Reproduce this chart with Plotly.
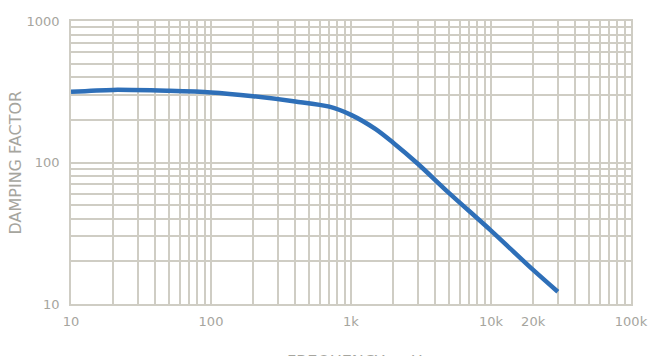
import plotly.graph_objects as go

freq = [10, 20, 50, 100, 200, 400, 700, 1000, 1500, 2000, 3000, 5000, 10000, 20000, 30000]
damping = [316, 326, 321, 313, 294, 270, 248, 217, 172, 138, 98, 61, 33, 17.4, 12.2]

x_grid = [m * 10 ** e for e in range(1, 5) for m in range(1, 10)] + [100000]
x_labels = {10: "10", 100: "100", 1000: "1k", 10000: "10k", 20000: "20k", 100000: "100k"}
x_text = [x_labels.get(v, "") for v in x_grid]

y_grid = [m * 10 ** e for e in range(1, 3) for m in range(1, 10)] + [1000]
y_labels = {10: "10", 100: "100", 1000: "1000"}
y_text = [y_labels.get(v, "") for v in y_grid]

grid_col = "#cfcdc4"
txt_col = "#a6a59e"
font_fam = "DejaVu Sans, sans-serif"

fig = go.Figure()
fig.add_trace(go.Scatter(x=freq, y=damping, mode="lines",
                         line=dict(color="#2e6fb8", width=4.5, shape="spline", smoothing=0.8),
                         hoverinfo="skip"))

fig.update_layout(
    width=660, height=356,
    margin=dict(l=71, r=20, t=21, b=52),
    paper_bgcolor="white", plot_bgcolor="white",
    showlegend=False,
    font=dict(family=font_fam, color=txt_col, size=13),
    xaxis=dict(type="log", range=[1, 5], tickmode="array", tickvals=x_grid, ticktext=x_text,
               showgrid=True, gridcolor=grid_col, gridwidth=1.5, ticks="", zeroline=False,
               showline=True, linecolor=grid_col, linewidth=1.5, mirror=True,
               tickfont=dict(size=13, color=txt_col), ticklabelstandoff=5),
    yaxis=dict(type="log", range=[1, 3], tickmode="array", tickvals=y_grid, ticktext=y_text,
               showgrid=True, gridcolor=grid_col, gridwidth=1.5, ticks="", zeroline=False,
               showline=True, linecolor=grid_col, linewidth=1.5, mirror=True,
               tickfont=dict(size=13, color=txt_col), ticklabelstandoff=7),
)

fig.add_annotation(text="DAMPING FACTOR", xref="paper", yref="paper",
                   x=-0.1, y=0.5, textangle=-90, showarrow=False,
                   font=dict(size=16, color=txt_col, family=font_fam),
                   xanchor="center", yanchor="middle")
fig.add_annotation(text="FREQUENCY — Hz", xref="paper", yref="paper",
                   x=(288 - 71) / 569, y=-(350 - 304) / 283, showarrow=False,
                   xanchor="left", yanchor="top",
                   font=dict(size=16, color=txt_col, family=font_fam))

fig.write_html("out.html")
